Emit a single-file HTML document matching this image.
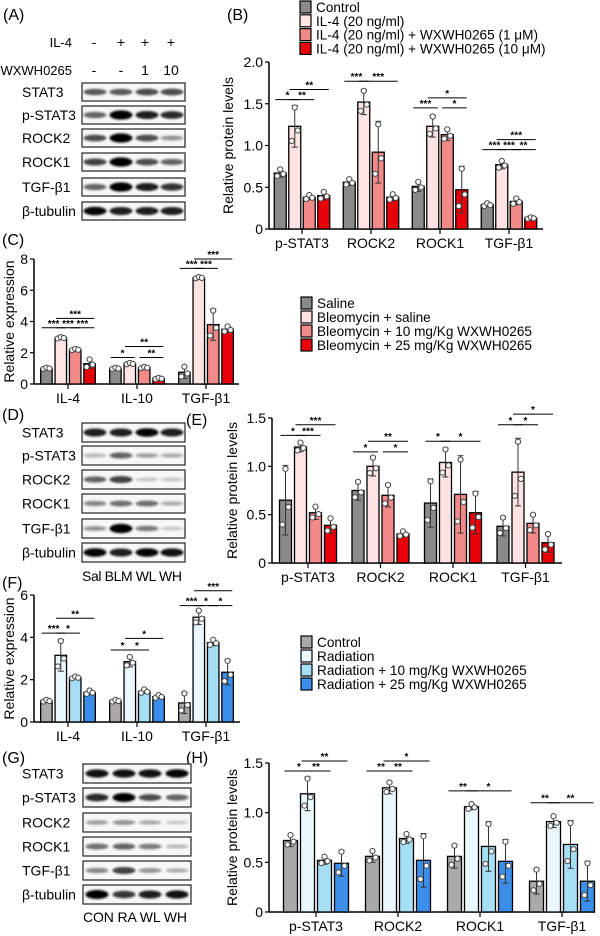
<!DOCTYPE html>
<html><head><meta charset="utf-8">
<style>
html,body{margin:0;padding:0;background:#fff;}
svg{display:block;font-family:"Liberation Sans",Arial,sans-serif;}
</style></head>
<body>
<svg id="fig" width="600" height="936" viewBox="0 0 600 936" xmlns="http://www.w3.org/2000/svg">
<defs><filter id="blur" x="-20%" y="-50%" width="140%" height="200%"><feGaussianBlur stdDeviation="1.1"/></filter></defs>
</svg>
<script>
// ---------- DATA ----------
const catsProt = ['p-STAT3','ROCK2','ROCK1','TGF-β1'];
const catsExp = ['IL-4','IL-10','TGF-β1'];
const yTicksB = [0,0.5,1.0,1.5,2.0];
const yTickLabelsB = ['0','0.5','1.0','1.5','2.0'];
const valsB = [[0.67,1.23,0.38,0.40],[0.56,1.52,0.92,0.38],[0.51,1.23,1.13,0.47],[0.29,0.77,0.33,0.13]];
const errB = [[0.05,0.25,0.03,0.05],[0.04,0.15,0.37,0.04],[0.06,0.13,0.07,0.28],[0.02,0.05,0.04,0.01]];
const sigB = [[0,0,1,1.55,'*'],[0,1,2,1.55,'**'],[0,1,3,1.67,'**'],[1,0,1,1.77,'***'],[1,1,3,1.77,'***'],[2,0,1,1.45,'***'],[2,1,3,1.57,'*'],[2,2,3,1.45,'*'],[3,0,1,0.95,'***'],[3,1,2,0.95,'***'],[3,1,3,1.07,'***'],[3,2,3,0.95,'**']];
const legendB = ['Control','IL-4 (20 ng/ml)','IL-4 (20 ng/ml) + WXWH0265 (1 μM)','IL-4 (20 ng/ml) + WXWH0265 (10 μM)'];

const yTicksC = [0,2,4,6,8];
const yTickLabelsC = ['0','2','4','6','8'];
const valsC = [[1.0,2.95,2.2,1.3],[1.0,1.3,1.05,0.35],[0.75,6.8,3.8,3.5]];
const errC = [[0.05,0.05,0.05,0.3],[0.05,0.05,0.05,0.05],[0.4,0.05,1.0,0.2]];
const sigC = [[0,0,1,3.6,'***'],[0,1,2,3.6,'***'],[0,2,3,3.6,'***'],[0,1,3,4.2,'***'],[1,0,1,1.7,'*'],[1,1,3,2.4,'**'],[1,2,3,1.7,'**'],[2,0,1,7.4,'***'],[2,1,2,7.4,'***'],[2,1,3,8.0,'***']];
const legendC = ['Saline','Bleomycin + saline','Bleomycin + 10 mg/Kg WXWH0265','Bleomycin + 25 mg/Kg WXWH0265'];

const yTicksE = [0,0.5,1.0,1.5];
const yTickLabelsE = ['0','0.5','1.0','1.5'];
const valsE = [[0.65,1.2,0.52,0.39],[0.75,1.0,0.70,0.30],[0.62,1.04,0.71,0.52],[0.38,0.94,0.41,0.21]];
const errE = [[0.36,0.05,0.07,0.08],[0.1,0.1,0.12,0.03],[0.25,0.15,0.40,0.22],[0.1,0.35,0.1,0.1]];
const sigE = [[0,0,1,1.32,'*'],[0,1,2,1.32,'***'],[0,1,3,1.43,'***'],[1,0,1,1.15,'*'],[1,1,3,1.26,'**'],[1,2,3,1.15,'*'],[2,0,1,1.26,'*'],[2,1,3,1.26,'*'],[3,0,1,1.43,'*'],[3,1,2,1.43,'*'],[3,1,3,1.54,'*']];

const yTicksF = [0,2,4,6];
const yTickLabelsF = ['0','2','4','6'];
const valsF = [[1.0,3.15,2.1,1.4],[1.0,2.85,1.45,1.2],[0.9,4.95,3.75,2.35]];
const errF = [[0.05,0.75,0.05,0.1],[0.05,0.25,0.1,0.08],[0.5,0.35,0.15,0.6]];
const sigF = [[0,0,1,4.2,'***'],[0,1,2,4.2,'*'],[0,1,3,4.9,'**'],[1,0,1,3.4,'*'],[1,1,2,3.4,'*'],[1,1,3,3.95,'*'],[2,0,1,5.5,'***'],[2,1,2,5.5,'*'],[2,2,3,5.5,'*'],[2,1,3,6.2,'***']];
const legendF = ['Control','Radiation','Radiation + 10 mg/Kg WXWH0265','Radiation + 25 mg/Kg WXWH0265'];

const yTicksH = [0,0.5,1.0,1.5];
const yTickLabelsH = ['0','0.5','1.0','1.5'];
const valsH = [[0.72,1.19,0.52,0.49],[0.56,1.25,0.74,0.52],[0.56,1.06,0.66,0.51],[0.31,0.91,0.68,0.31]];
const errH = [[0.06,0.17,0.04,0.13],[0.06,0.06,0.05,0.27],[0.12,0.03,0.25,0.22],[0.13,0.06,0.24,0.2]];
const sigH = [[0,0,1,1.42,'*'],[0,1,2,1.42,'**'],[0,1,3,1.52,'**'],[1,0,1,1.42,'**'],[1,1,2,1.42,'**'],[1,1,3,1.52,'*'],[2,0,1,1.22,'**'],[2,1,3,1.22,'*'],[3,0,1,1.1,'**'],[3,1,3,1.1,'**']];

const blotRows = ['STAT3','p-STAT3','ROCK2','ROCK1','TGF-β1','β-tubulin'];
const bandA = [[0.55,0.55,0.6,0.6],[0.5,1,0.8,0.75],[0.6,1,0.6,0.3],[0.65,1,0.6,0.5],[0.5,1,0.8,0.7],[0.9,0.8,0.8,0.8]];
const bandD = [[0.8,0.8,0.9,0.8],[0.15,0.5,0.25,0.2],[0.5,0.65,0.1,0.1],[0.35,0.45,0.45,0.2],[0.3,1,0.4,0.08],[0.9,0.8,0.9,0.85]];
const bandG = [[0.85,0.85,0.85,0.9],[0.75,0.95,0.6,0.5],[0.25,0.3,0.2,0.08],[0.45,0.5,0.4,0.15],[0.35,0.65,0.3,0.2],[0.95,0.7,0.8,0.85]];

const redColors = ['#8a8a8a','#fde3e3','#f28a8a','#e8000b'];
const blueColors = ['#a9a9a9','#eaf7fd','#a6def4','#3b8fea'];

// ---------- HELPERS ----------
const NS='http://www.w3.org/2000/svg';
const fig=document.getElementById('fig');
function mk(tag,attrs,parent,text){const e=document.createElementNS(NS,tag);for(const k in attrs)e.setAttribute(k,attrs[k]);if(text!==undefined)e.textContent=text;(parent||fig).appendChild(e);return e;}

function barChart(o){
  const g=mk('g',{},fig);
  
  
  const yMax=o.ticks[o.ticks.length-1];
  const y=v=>o.y0-(v/yMax)*(o.y0-o.yTop);
  const x=(gi,bi)=>o.gc0+gi*o.gs+(bi-1.5)*o.pitch;
  const ya=mk('line',{x1:o.ax,y1:o.yTop,x2:o.ax,y2:o.y0,stroke:'#000','stroke-width':1.5},g);
  
  
  const xa=mk('line',{x1:o.ax,y1:o.y0,x2:o.xEnd,y2:o.y0,stroke:'#000','stroke-width':1.5},g);
  
  
  o.ticks.forEach((t,i)=>{
    mk('line',{x1:o.ax-4,y1:y(t),x2:o.ax,y2:y(t),stroke:'#000','stroke-width':1.2},g);
    const tl=mk('text',{x:o.ax-6,y:y(t)+5,'text-anchor':'end','font-size':14},g,o.tickLabels[i]);
    
    
  });
  const tt=mk('text',{x:o.titleX,y:(o.y0+o.yTop)/2,'text-anchor':'middle','font-size':14,transform:`rotate(-90 ${o.titleX} ${(o.y0+o.yTop)/2})`},g,o.title);
  
  
  o.cats.forEach((c,gi)=>{
    const cx=o.gc0+gi*o.gs;
    mk('line',{x1:cx,y1:o.y0,x2:cx,y2:o.y0+5,stroke:'#000','stroke-width':1.2},g);
    const cl=mk('text',{x:cx,y:o.y0+19,'text-anchor':'middle','font-size':14},g,c);
    
    
    o.vals[gi].forEach((v,bi)=>{
      const bx=x(gi,bi)-o.bw/2;
      const r=mk('rect',{x:bx,y:y(v),width:o.bw,height:o.y0-y(v),fill:o.colors[bi],stroke:'#000','stroke-width':1.3},g);
      
      
      const e=o.err[gi][bi], xc=x(gi,bi);
      mk('line',{x1:xc,y1:y(v+e),x2:xc,y2:y(Math.max(0,v-e)),stroke:'#333','stroke-width':1},g);
      mk('line',{x1:xc-3,y1:y(v+e),x2:xc+3,y2:y(v+e),stroke:'#333','stroke-width':1},g);
      mk('line',{x1:xc-3,y1:y(Math.max(0,v-e)),x2:xc+3,y2:y(Math.max(0,v-e)),stroke:'#333','stroke-width':1},g);
      [[-3,-0.7],[0,0.9],[3,-0.2]].forEach(p=>{
        const d=mk('circle',{cx:xc+p[0],cy:y(Math.max(0.02,v+p[1]*e)),r:2.6,fill:'#fff',stroke:'#444','stroke-width':1},g);
        
        
      });
    });
  });
  o.sig.forEach(s=>{
    const x1=x(s[0],s[1])-o.bw/2+1, x2=x(s[0],s[2])+o.bw/2-1, yy=y(s[3]);
    mk('line',{x1:x1,y1:yy,x2:x2,y2:yy,stroke:'#000','stroke-width':1},g);
    const st=mk('text',{x:(x1+x2)/2,y:yy-1,'text-anchor':'middle','font-size':10,'font-weight':'bold'},g,s[4]);
    
    
  });
}

function legend(name,x0,ys,dy,labels,colors){
  const g=mk('g',{},fig);
  
  
  labels.forEach((l,i)=>{
    const yy=ys+i*dy;
    const r=mk('rect',{x:x0,y:yy-6,width:11,height:12,fill:colors[i],stroke:'#000','stroke-width':1.2},g);
    
    
    const t=mk('text',{x:x0+16,y:yy+5,'font-size':13.6},g,l);
    
    
  });
}

function blot(name,bx,bw,rowsY,rowH,lanes,bands,labelX){
  const g=mk('g',{},fig);
  
  
  blotRows.forEach((lab,ri)=>{
    const ry=rowsY[ri];
    const t=mk('text',{x:labelX,y:ry+rowH/2+5,'font-size':14},g,lab);
    
    
    mk('rect',{x:bx,y:ry,width:bw,height:rowH,fill:'#f7f7f7',stroke:'#333','stroke-width':1.3},g);
    lanes.forEach((lx,li)=>{
      const a=bands[ri][li];
      mk('ellipse',{cx:lx,cy:ry+rowH/2,rx:11.5,ry:1.6+a*3,fill:'#000','fill-opacity':Math.min(1,0.12+a*0.95),filter:'url(#blur)'},g);
    });
  });
}

// ---------- PANELS ----------
function plabel(t,x,y){const e=mk('text',{x:x,y:y,'font-size':16},fig,t);}
plabel('(A)',3,20);plabel('(B)',227,20);plabel('(C)',2,245);plabel('(D)',2,420);plabel('(E)',186,425);plabel('(F)',2,588);plabel('(G)',2,763);plabel('(H)',186,763);

[['IL-4',72,47,['-','+','+','+']],['WXWH0265',72,75,['-','-','1','10']]].forEach(r=>{
  const t=mk('text',{x:r[1],y:r[2],'text-anchor':'end','font-size':13},fig,r[0]);
  
  
  [94,121,145,171].forEach((lx,i)=>{const s=mk('text',{x:lx,y:r[2],'text-anchor':'middle','font-size':14},fig,r[3][i]);});
});
blot('blot-a',82,103,[83,106,129,153,178,202],18,[95,121,147,172],bandA,22);
blot('blot-d',82,103,[423,446,470,494,519,543],19,[95,121,147,172],bandD,22);
blot('blot-g',83,108,[764,788,813,837,861,885],19,[97,124,150,177],bandG,22);
const laneD=mk('text',{x:82,y:581,'font-size':14,textLength:100,lengthAdjust:'spacing'},fig,'Sal BLM WL WH');


const laneG=mk('text',{x:83,y:922,'font-size':14,textLength:104,lengthAdjust:'spacing'},fig,'CON RA WL WH');



barChart({name:'chart-b',ax:269,xEnd:543,y0:229,yTop:62,ticks:yTicksB,tickLabels:yTickLabelsB,cats:catsProt,vals:valsB,err:errB,sig:sigB,colors:redColors,gc0:302,gs:69,pitch:14.5,bw:12,title:'Relative protein levels',titleX:233});
legend('legend-b',300,7,13.8,legendB,redColors);
barChart({name:'chart-c',ax:34,xEnd:239,y0:384,yTop:259,ticks:yTicksC,tickLabels:yTickLabelsC,cats:catsExp,vals:valsC,err:errC,sig:sigC,colors:redColors,gc0:68,gs:69,pitch:14.4,bw:11.5,title:'Relative expression',titleX:14});
legend('legend-c',301,303,14,legendC,redColors);
barChart({name:'chart-e',ax:272,xEnd:562,y0:563,yTop:418,ticks:yTicksE,tickLabels:yTickLabelsE,cats:catsProt,vals:valsE,err:errE,sig:sigE,colors:redColors,gc0:308,gs:72.5,pitch:15,bw:12,title:'Relative protein levels',titleX:237});
barChart({name:'chart-f',ax:34,xEnd:240,y0:722,yTop:595,ticks:yTicksF,tickLabels:yTickLabelsF,cats:catsExp,vals:valsF,err:errF,sig:sigF,colors:blueColors,gc0:68,gs:69,pitch:14.4,bw:11.5,title:'Relative expression',titleX:14});
legend('legend-f',301,642,14,legendF,blueColors);
barChart({name:'chart-h',ax:269,xEnd:595,y0:912,yTop:763,ticks:yTicksH,tickLabels:yTickLabelsH,cats:catsProt,vals:valsH,err:errH,sig:sigH,colors:blueColors,gc0:316,gs:82,pitch:17,bw:14,title:'Relative protein levels',titleX:237});
</script>
</body></html>
